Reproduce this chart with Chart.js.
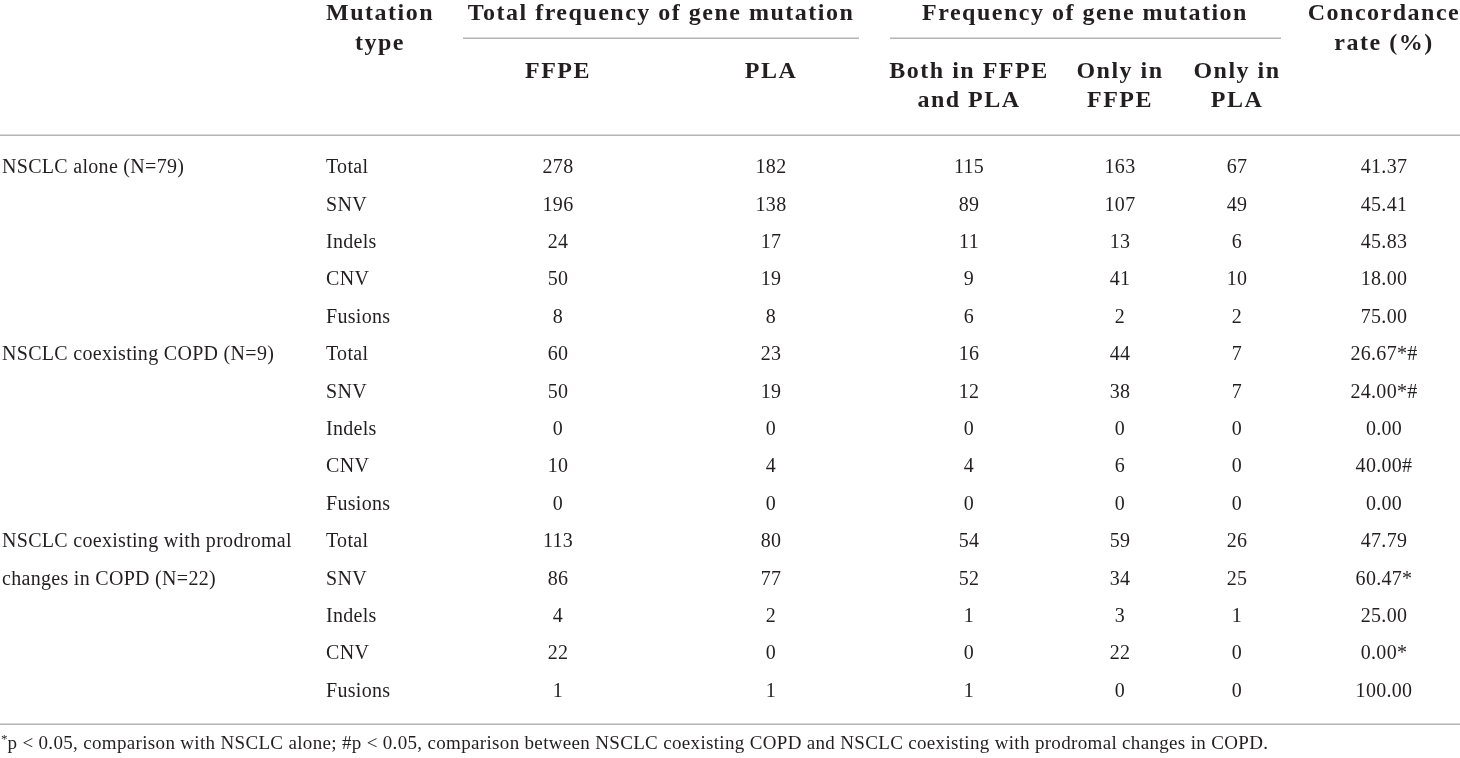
<!DOCTYPE html>
<html>
<head>
<meta charset="utf-8">
<script src="https://cdn.jsdelivr.net/npm/chart.js@4.4.1/dist/chart.umd.min.js"></script>
<style>
  html, body { margin: 0; padding: 0; background: #fff; }
  #wrap { width: 1460px; height: 758px; position: relative; }
</style>
</head>
<body>
<div id="wrap"><canvas id="myChart"></canvas></div>
<script>
// table data
const groups = ['NSCLC alone (N=79)', 'NSCLC coexisting COPD (N=9)', 'NSCLC coexisting with prodromal\nchanges in COPD (N=22)'];
const mutationTypes = ['Total', 'SNV', 'Indels', 'CNV', 'Fusions'];
const ffpe = [278, 196, 24, 50, 8, 60, 50, 0, 10, 0, 113, 86, 4, 22, 1];
const pla = [182, 138, 17, 19, 8, 23, 19, 0, 4, 0, 80, 77, 2, 0, 1];
const bothIn = [115, 89, 11, 9, 6, 16, 12, 0, 4, 0, 54, 52, 1, 0, 1];
const onlyFfpe = [163, 107, 13, 41, 2, 44, 38, 0, 6, 0, 59, 34, 3, 22, 0];
const onlyPla = [67, 49, 6, 10, 2, 7, 7, 0, 0, 0, 26, 25, 1, 0, 0];
const concordance = [41.37, 45.41, 45.83, 18.00, 75.00, 26.67, 24.00, 0.00, 40.00, 0.00, 47.79, 60.47, 25.00, 0.00, 100.00];
const concordanceMarks = ['', '', '', '', '', '*#', '*#', '', '#', '', '', '*', '', '*', ''];
const footnote = ['*', 'p < 0.05, comparison with NSCLC alone; #p < 0.05, comparison between NSCLC coexisting COPD and NSCLC coexisting with prodromal changes in COPD.'];

// layout (x in px, y in row units)
const colX = [2, 326, 558, 771, 969, 1120, 1237, 1384];
const ink = '#231f20';
const rule = '#b4b4b4';
const bodyFont = '20px "Liberation Serif"';
const headFont = 'bold 24px "Liberation Serif"';

const headers = [
  { text: 'Mutation', x: 380, y: -4.12 },
  { text: 'type', x: 380, y: -3.33 },
  { text: 'Total frequency of gene mutation', x: 661, y: -4.12 },
  { text: 'Frequency of gene mutation', x: 1085, y: -4.12 },
  { text: 'Concordance', x: 1384, y: -4.12 },
  { text: 'rate (%)', x: 1384, y: -3.33 },
  { text: 'FFPE', x: colX[2], y: -2.58 },
  { text: 'PLA', x: colX[3], y: -2.58 },
  { text: 'Both in FFPE', x: colX[4], y: -2.58 },
  { text: 'and PLA', x: colX[4], y: -1.79 },
  { text: 'Only in', x: colX[5], y: -2.58 },
  { text: 'FFPE', x: colX[5], y: -1.79 },
  { text: 'Only in', x: colX[6], y: -2.58 },
  { text: 'PLA', x: colX[6], y: -1.79 }
];
const rules = [
  { x0: 463, x1: 859, y: -3.476 },
  { x0: 890, x1: 1281, y: -3.476 },
  { x0: 0, x1: 1460, y: -0.88 },
  { x0: 0, x1: 1460, y: 14.86 }
];

const rowCount = ffpe.length;
const rows = [...Array(rowCount).keys()];

function cellData(col, labels) {
  return rows.map(r => ({ x: colX[col], y: r, label: labels[r] }));
}

const groupPoints = [];
groups.forEach((g, gi) => {
  g.split('\n').forEach((line, li) => {
    groupPoints.push({ x: colX[0], y: gi * mutationTypes.length + li, label: line });
  });
});

const datasets = [
  { data: groupPoints, align: 'left' },
  { data: cellData(1, rows.map(r => mutationTypes[r % mutationTypes.length])), align: 'left' },
  { data: cellData(2, ffpe.map(String)), align: 'center' },
  { data: cellData(3, pla.map(String)), align: 'center' },
  { data: cellData(4, bothIn.map(String)), align: 'center' },
  { data: cellData(5, onlyFfpe.map(String)), align: 'center' },
  { data: cellData(6, onlyPla.map(String)), align: 'center' },
  { data: cellData(7, concordance.map((v, i) => v.toFixed(2) + concordanceMarks[i])), align: 'center' }
];
datasets.forEach(d => { d.pointRadius = 0; d.showLine = false; });

const tablePlugin = {
  id: 'tablePlugin',
  afterDatasetsDraw(chart) {
    const ctx = chart.ctx;
    const xs = chart.scales.x, ys = chart.scales.y;
    ctx.save();
    ctx.fillStyle = ink;
    ctx.textBaseline = 'middle';

    // rules
    ctx.strokeStyle = rule;
    ctx.lineWidth = 1.5;
    rules.forEach(r => {
      const y = Math.round(ys.getPixelForValue(r.y)) + 0.25;
      ctx.beginPath();
      ctx.moveTo(xs.getPixelForValue(r.x0), y);
      ctx.lineTo(xs.getPixelForValue(r.x1), y);
      ctx.stroke();
    });

    // header
    ctx.font = headFont;
    ctx.letterSpacing = '1.5px';
    ctx.textAlign = 'center';
    headers.forEach(h => ctx.fillText(h.text, xs.getPixelForValue(h.x), ys.getPixelForValue(h.y)));

    // body cells
    ctx.font = bodyFont;
    ctx.letterSpacing = '0.3px';
    chart.data.datasets.forEach((ds, di) => {
      const meta = chart.getDatasetMeta(di);
      ctx.textAlign = ds.align;
      meta.data.forEach((el, i) => ctx.fillText(ds.data[i].label, el.x, el.y));
    });

    // footnote
    const fy = ys.getPixelForValue(15.4);
    ctx.textAlign = 'left';
    ctx.font = '13px "Liberation Serif"';
    ctx.letterSpacing = '0px';
    ctx.fillText(footnote[0], 1, fy - 4);
    const sw = ctx.measureText(footnote[0]).width;
    ctx.font = '19px "Liberation Serif"';
    ctx.letterSpacing = '0.33px';
    ctx.fillText(footnote[1], 1 + sw, fy);
    ctx.restore();
  }
};

function initChart() {
  const ctx = document.getElementById('myChart').getContext('2d');
  new Chart(ctx, {
    type: 'scatter',
    data: { datasets: datasets },
    options: {
      responsive: true,
      maintainAspectRatio: false,
      animation: false,
      events: [],
      layout: { padding: 0 },
      plugins: { legend: { display: false }, tooltip: { enabled: false } },
      scales: {
        x: { type: 'linear', min: 0, max: 1460, display: false },
        y: { type: 'linear', min: -168 / 37.4, max: (758 - 168) / 37.4, reverse: true, display: false }
      }
    },
    plugins: [tablePlugin]
  });
}

document.addEventListener('DOMContentLoaded', initChart);
</script>
</body>
</html>
